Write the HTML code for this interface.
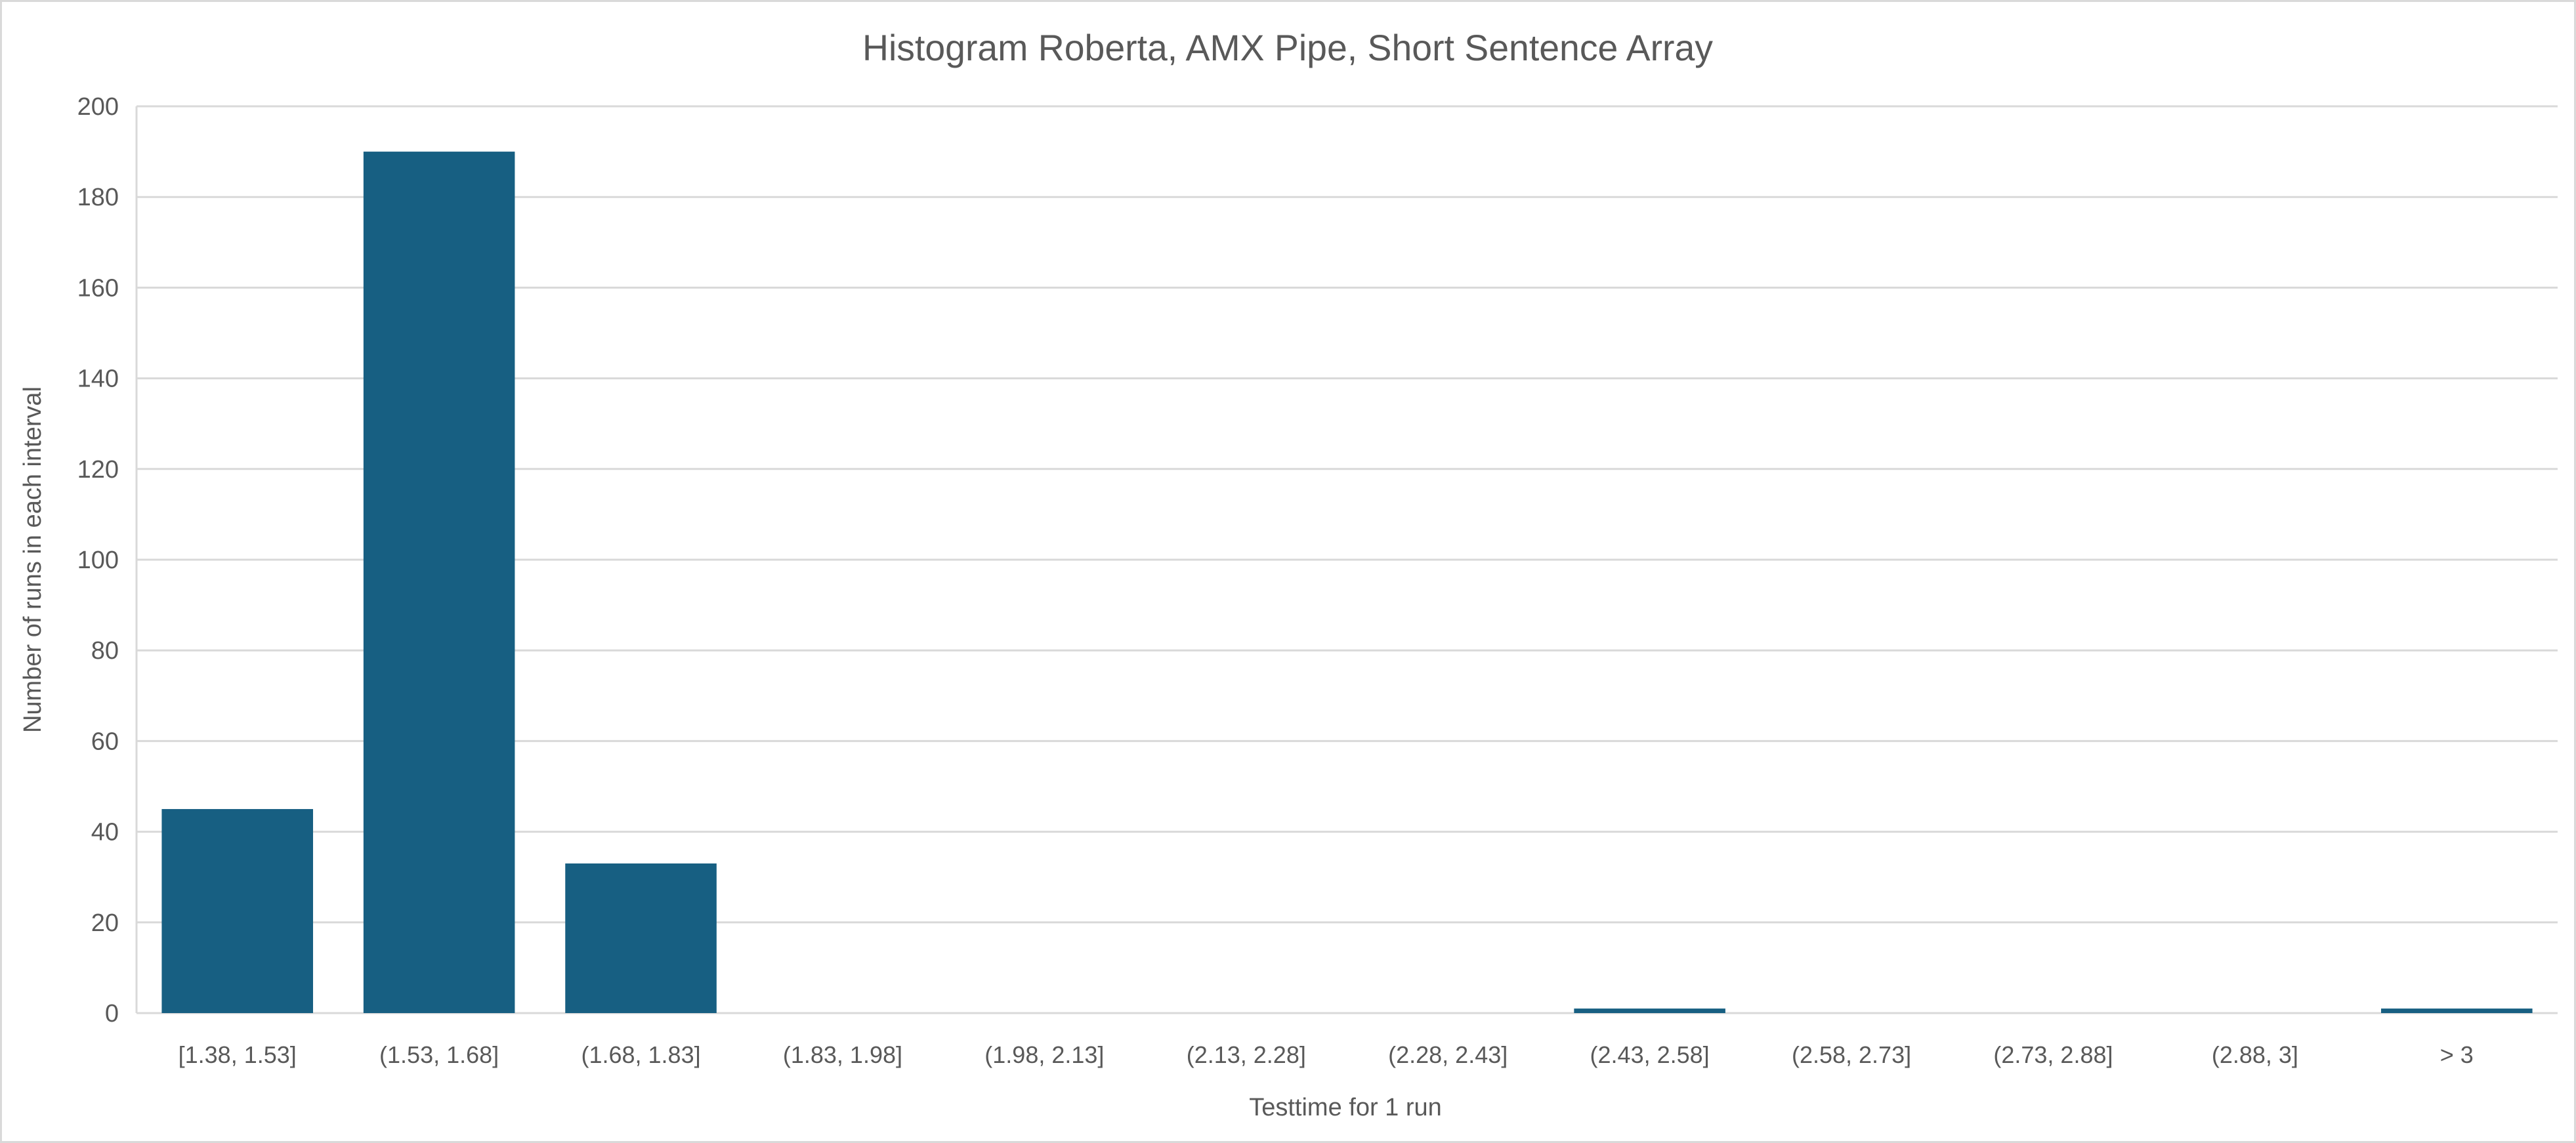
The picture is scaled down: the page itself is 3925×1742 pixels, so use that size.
<!DOCTYPE html>
<html><head><meta charset="utf-8"><style>
html,body{margin:0;padding:0;background:#fff}
svg{display:block;font-family:"Liberation Sans",sans-serif}
</style></head><body>
<svg id="chart" width="3925" height="1742" viewBox="0 0 3925 1742">
<rect x="1.5" y="1.5" width="3922" height="1739" fill="#fff" stroke="#d9d9d9" stroke-width="3"/>
<text x="1962" y="92" text-anchor="middle" font-size="56" fill="#595959" textLength="1296" lengthAdjust="spacingAndGlyphs">Histogram Roberta, AMX Pipe, Short Sentence Array</text>
<g id="grid"></g>
<g id="bars"></g>
<g id="xlabels"></g>
<g id="ylabels"></g>
<text x="2050" y="1700" text-anchor="middle" font-size="38" fill="#595959">Testtime for 1 run</text>
<text transform="translate(62,853) rotate(-90)" text-anchor="middle" font-size="38" fill="#595959">Number of runs in each interval</text>
</svg>
<script>
const categories = ["[1.38, 1.53]","(1.53, 1.68]","(1.68, 1.83]","(1.83, 1.98]","(1.98, 2.13]","(2.13, 2.28]","(2.28, 2.43]","(2.43, 2.58]","(2.58, 2.73]","(2.73, 2.88]","(2.88, 3]","> 3"];
const counts = [45,190,33,0,0,0,0,1,0,0,0,1];
const yTicks = [0,20,40,60,80,100,120,140,160,180,200];

const NS="http://www.w3.org/2000/svg";
const plotLeft=208,plotRight=3897,plotTop=162,plotBottom=1544,yMax=200;
const band=(plotRight-plotLeft)/categories.length;
const barW=band*0.75;
function yScale(v){return plotBottom-(v/yMax)*(plotBottom-plotTop);}
function xScale(i){return plotLeft+band*i;}
function mk(tag,attrs,parent){const e=document.createElementNS(NS,tag);for(const k in attrs)e.setAttribute(k,attrs[k]);parent.appendChild(e);return e;}
const grid=document.getElementById('grid'),bars=document.getElementById('bars'),xl=document.getElementById('xlabels'),yl=document.getElementById('ylabels');
yTicks.forEach(t=>{
  const y=yScale(t);
  const l=mk('line',{x1:plotLeft,x2:plotRight,y1:y,y2:y,stroke:'#d9d9d9','stroke-width':3},grid);
  
  
  const tx=mk('text',{x:plotLeft-27,y:y+13,'text-anchor':'end','font-size':38,fill:'#595959'},yl);
  tx.textContent=t;
  
  
});
const ax=mk('line',{x1:plotLeft,x2:plotLeft,y1:plotTop,y2:plotBottom,stroke:'#d9d9d9','stroke-width':3},grid);


counts.forEach((v,i)=>{
  const x=xScale(i)+(band-barW)/2;
  const r=mk('rect',{x:x,y:yScale(v),width:barW,height:plotBottom-yScale(v),fill:'#175f82'},bars);
  
  
  const t=mk('text',{x:xScale(i)+band/2,y:1620,'text-anchor':'middle','font-size':36,fill:'#595959'},xl);
  t.textContent=categories[i];
  
  
});
</script>
</body></html>
